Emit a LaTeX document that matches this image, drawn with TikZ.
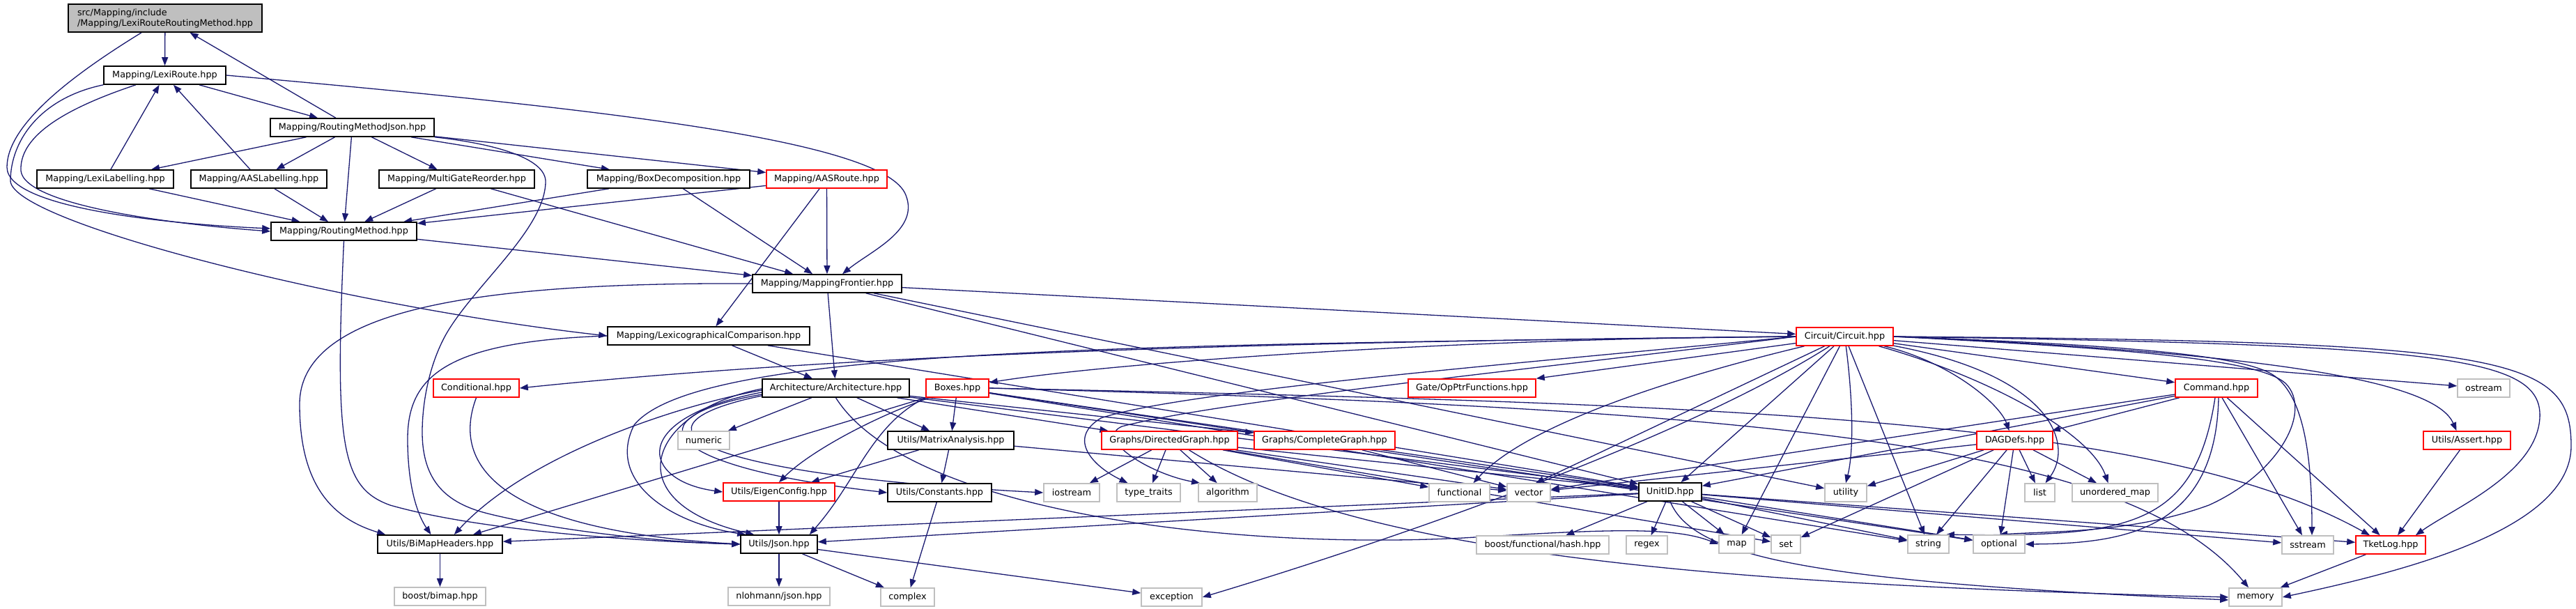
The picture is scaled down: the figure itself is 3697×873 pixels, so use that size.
\documentclass[tikz,border=0pt]{standalone}
\usepackage{fontspec}
\setmainfont{DejaVu Sans}
\usetikzlibrary{arrows.meta,calc}
\definecolor{edgec}{HTML}{191970}
\definecolor{grayb}{HTML}{BFBFBF}
\definecolor{redb}{HTML}{FF0000}
\pgfdeclarelayer{bg}
\pgfsetlayers{bg,main}
\begin{document}
\begin{tikzpicture}[x=1pt,y=-1pt,
  dbox/.style={draw=black, line width=1.6pt, fill=white, minimum height=26pt, inner sep=0pt, font=\fontsize{12.8}{15}\selectfont},
  nb/.style={dbox},
  nr/.style={dbox, draw=redb},
  ng/.style={dbox, draw=grayb},
  edg/.style={draw=edgec, line width=1.3pt, -{Triangle[length=12pt,width=9pt]}},
]
\useasboundingbox (0,0) rectangle (3697,873);

% nodes
\node[nb, fill=grayb, minimum width=278pt, minimum height=40pt, align=left] (root) at (237,26) {src/Mapping/include\\/Mapping/LexiRouteRoutingMethod.hpp};
\node[nb, minimum width=175pt] (LR) at (236.5,108) {Mapping/LexiRoute.hpp};
\node[nb, minimum width=235pt] (RMJ) at (505.5,183) {Mapping/RoutingMethodJson.hpp};
\node[nb, minimum width=196pt] (LL) at (151,257) {Mapping/LexiLabelling.hpp};
\node[nb, minimum width=195pt] (AASL) at (371.5,257) {Mapping/AASLabelling.hpp};
\node[nb, minimum width=223pt] (MGR) at (655.5,257) {Mapping/MultiGateReorder.hpp};
\node[nb, minimum width=233pt] (BD) at (959.5,257) {Mapping/BoxDecomposition.hpp};
\node[nr, minimum width=173pt] (AASR) at (1186.5,257) {Mapping/AASRoute.hpp};
\node[nb, minimum width=209pt] (RM) at (493.5,332) {Mapping/RoutingMethod.hpp};
\node[nb, minimum width=214pt] (MF) at (1187,407) {Mapping/MappingFrontier.hpp};
\node[nb, minimum width=290pt] (LC) at (1017,482) {Mapping/LexicographicalComparison.hpp};
\node[nr, minimum width=139pt] (Circ) at (2647.5,483) {Circuit/Circuit.hpp};
\node[nr, minimum width=123pt] (Cond) at (683.5,557) {Conditional.hpp};
\node[nb, minimum width=211pt] (Arch) at (1199.5,557) {Architecture/Architecture.hpp};
\node[nr, minimum width=90pt] (Boxes) at (1374,557) {Boxes.hpp};
\node[nr, minimum width=183pt] (Gate) at (2112.5,557) {Gate/OpPtrFunctions.hpp};
\node[nr, minimum width=118pt] (Cmd) at (3181,557) {Command.hpp};
\node[ng, minimum width=75pt] (ostream) at (3564.5,557) {ostream};
\node[ng, minimum width=74pt] (numeric) at (1010,632) {numeric};
\node[nb, minimum width=181pt] (MA) at (1364.5,632) {Utils/MatrixAnalysis.hpp};
\node[nr, minimum width=195pt] (DG) at (1678.5,632) {Graphs/DirectedGraph.hpp};
\node[nr, minimum width=202pt] (CG) at (1901,632) {Graphs/CompleteGraph.hpp};
\node[nr, minimum width=109pt] (DAG) at (2891.5,632) {DAGDefs.hpp};
\node[nr, minimum width=125pt] (Assert) at (3540.5,632) {Utils/Assert.hpp};
\node[nr, minimum width=160pt] (EC) at (1118,706) {Utils/EigenConfig.hpp};
\node[nb, minimum width=149pt] (Const) at (1348.5,707) {Utils/Constants.hpp};
\node[ng, minimum width=80pt] (iostream) at (1538,707) {iostream};
\node[ng, minimum width=91pt] (typetraits) at (1648.5,707) {type\_traits};
\node[ng, minimum width=84pt] (algorithm) at (1762,707) {algorithm};
\node[ng, minimum width=87pt] (functional) at (2094.5,707) {functional};
\node[ng, minimum width=62pt] (vector) at (2194,707) {vector};
\node[nb, minimum width=90pt] (UnitID) at (2397,706) {UnitID.hpp};
\node[ng, minimum width=60pt] (utility) at (2649,707) {utility};
\node[ng, minimum width=43pt] (list) at (2927.5,707) {list};
\node[ng, minimum width=123pt] (umap) at (3035.5,707) {unordered\_map};
\node[nb, minimum width=179pt] (BiMap) at (631.5,781) {Utils/BiMapHeaders.hpp};
\node[nb, minimum width=110pt] (Json) at (1118,781) {Utils/Json.hpp};
\node[ng, minimum width=190pt] (hash) at (2214,782) {boost/functional/hash.hpp};
\node[ng, minimum width=59pt] (regex) at (2363.5,782) {regex};
\node[ng, minimum width=51pt] (map) at (2492.5,781) {map};
\node[ng, minimum width=42pt] (set) at (2563,781) {set};
\node[ng, minimum width=59pt] (string) at (2767.5,781) {string};
\node[ng, minimum width=74pt] (optional) at (2869,781) {optional};
\node[ng, minimum width=74pt] (sstream) at (3312,782) {sstream};
\node[nr, minimum width=100pt] (TketLog) at (3431,782) {TketLog.hpp};
\node[ng, minimum width=131pt] (bimap) at (631.5,856) {boost/bimap.hpp};
\node[ng, minimum width=146pt] (nlohmann) at (1118,856) {nlohmann/json.hpp};
\node[ng, minimum width=77pt] (complex) at (1302.5,857) {complex};
\node[ng, minimum width=87pt] (exception) at (1681.5,857) {exception};
\node[ng, minimum width=76pt] (memory) at (3237,857) {memory};

\begin{pgfonlayer}{bg}
\fill[white] (0,0) rectangle (3697,873);
% straight connectors
\foreach \a/\b in {root/LR, RMJ/root, LR/RMJ, LL/LR, AASL/LR, RMJ/LL, RMJ/AASL, RMJ/MGR, RMJ/BD, RMJ/AASR, RMJ/RM,
  LL/RM, AASL/RM, MGR/RM, MGR/MF, BD/RM, BD/MF, AASR/RM, AASR/MF, AASR/LC, RM/MF,
  MF/Circ, MF/Arch, MF/UnitID, MF/utility, LC/Arch, LC/UnitID,
  Circ/Cmd, Circ/ostream, Circ/UnitID, Circ/map, Circ/string,
  Arch/numeric, Arch/MA, Arch/DG, Arch/CG, Arch/UnitID,
  Boxes/MA, Boxes/UnitID, Boxes/string, Boxes/optional,
  Cmd/DAG, Cmd/UnitID, Cmd/vector, Cmd/sstream, Cmd/TketLog,
  MA/EC, MA/Const, MA/vector,
  DG/iostream, DG/typetraits, DG/algorithm, DG/functional, DG/vector, DG/set, DG/UnitID,
  CG/vector,
  DAG/utility, DAG/list, DAG/umap, DAG/set, DAG/string, DAG/optional, DAG/vector,
  Assert/TketLog, EC/Json, Const/complex,
  UnitID/BiMap, UnitID/Json, UnitID/hash, UnitID/regex, UnitID/map, UnitID/set, UnitID/string, UnitID/optional, UnitID/sstream, UnitID/TketLog,
  BiMap/bimap, Json/nlohmann, Json/complex, Json/exception, TketLog/memory}
  \draw[edg] (\a) -- (\b);

\draw[edg] (Circ) -- (Gate.north east);
\draw[edg] (Circ) -- ($(vector.north)+(10,0)$);
\draw[edg] (Boxes) -- ($(BiMap.north east)+(-43,0)$);

% curved connectors, upper part
\draw[edg] (root) .. controls (100,110) and (10,180) .. (10,240) .. controls (10,300) and (250,322) .. ($(RM.west)+(0,-4)$);
\draw[edg] (LR) .. controls (80,160) and (28,200) .. (30,245) .. controls (35,295) and (250,322) .. (RM.west);
\draw[edg] (LR.south west) .. controls (60,140) and (15,200) .. (15,260) .. controls (20,320) and (500,440) .. (LC.west);
\draw[edg] (LR.east) .. controls (850,155) and (1270,200) .. (1300,280) .. controls (1320,330) and (1250,360) .. ($(MF.north)+(22,0)$);
\draw[edg] (RMJ.south east) .. controls (700,205) and (785,225) .. (783,262) .. controls (781,330) and (680,410) .. (640,480) .. controls (615,525) and (606,580) .. (606,620) .. controls (606,690) and (640,722) .. (700,737) .. controls (800,762) and (950,778) .. (Json.west);
\draw[edg] (RM.south) .. controls (480,640) and (490,700) .. (560,725) .. controls (700,765) and (950,778) .. (Json.west);
\draw[edg] (MF.west) .. controls (700,405) and (430,440) .. (430,580) .. controls (430,700) and (480,745) .. ($(BiMap.north west)+(12,0)$);
\draw[edg] (LC.west) .. controls (640,490) and (585,540) .. (585,630) .. controls (585,700) and (600,740) .. ($(BiMap.north)+(-13,0)$);
\draw[edg] (Cond.south) .. controls (650,660) and (700,760) .. (Json.west);

% Architecture / Boxes curves
\draw[edg] ($(Arch.west)+(0,3)$) .. controls (980,580) and (760,650) .. ($(BiMap.north east)+(-70,0)$);
\draw[edg] ($(Arch.west)+(0,6)$) .. controls (900,600) and (920,690) .. (EC.west);
\draw[edg] ($(Arch.west)+(0,9)$) .. controls (900,600) and (950,670) .. (Const.west);
\draw[edg] ($(Arch.west)+(0,11)$) .. controls (890,610) and (980,680) .. (iostream.west);
\draw[edg] ($(Arch.west)+(0,1)$) .. controls (930,590) and (880,720) .. ($(Json.north west)+(20,0)$);
\draw[edg] (Arch.south) .. controls (1300,730) and (1750,790) .. (2100,772) .. controls (2300,760) and (2400,755) .. (map.west);
\draw[edg] (Boxes.south west) .. controls (1250,610) and (1230,690) .. ($(Json.north east)+(-12,0)$);
\draw[edg] (Boxes) .. controls (1250,600) and (1160,650) .. (EC.north);
\draw[edg] (Boxes.east) .. controls (2500,580) and (3100,600) .. ($(TketLog.north)+(-30,0)$);
\draw[edg] (Boxes.east) .. controls (2500,586) and (3050,630) .. ($(memory.north)+(-10,0)$);
\draw[edg] ($(DG.south)+(28,0)$) .. controls (1950,800) and (2500,840) .. (memory.west);
\draw[edg] (UnitID.south) .. controls (2430,800) and (2600,835) .. ($(memory.west)+(0,4)$);

% Circuit curves
\draw[edg] (Circ.west) .. controls (1800,490) and (1200,510) .. (Cond.east);
\draw[edg] (Circ.west) .. controls (1600,495) and (1000,500) .. (910,610) .. controls (870,690) and (960,750) .. ($(Json.north west)+(8,0)$);
\draw[edg] (Circ.west) .. controls (2100,485) and (1600,520) .. ($(Boxes.east)+(0,-8)$);
\draw[edg] (Circ.west) .. controls (2200,520) and (1700,560) .. (1580,600) .. controls (1530,630) and (1570,670) .. ($(typetraits.north)+(-30,0)$);
\draw[edg] (Circ.west) .. controls (2200,530) and (1750,575) .. (1610,612) .. controls (1570,630) and (1650,680) .. ($(algorithm.north)+(-40,0)$);
\draw[edg] (Circ) .. controls (2450,530) and (2200,600) .. ($(functional.north)+(20,0)$);
\draw[edg] (Circ) .. controls (2400,640) and (1950,790) .. (exception.east);
\draw[edg] (Circ) .. controls (2660,580) and (2660,650) .. (utility.north);
\draw[edg] (Circ) .. controls (2800,520) and (2870,580) .. ($(DAG.north)+(-8,0)$);
\draw[edg] (Circ) .. controls (2950,540) and (2975,640) .. ($(list.north)+(8,0)$);
\draw[edg] (Circ) .. controls (2850,540) and (3000,620) .. ($(umap.north)+(-10,0)$);
\draw[edg] (Circ.east) .. controls (3350,510) and (3500,560) .. ($(Assert.north)+(-15,0)$);
\draw[edg] (Circ.east) .. controls (3050,495) and (3225,510) .. (3265,540) .. controls (3305,570) and (3318,650) .. ($(sstream.north)+(6,0)$);
\draw[edg] (Circ.east) .. controls (3050,500) and (3240,515) .. (3280,550) .. controls (3320,590) and (3270,680) .. (3170,725) .. controls (3060,765) and (2950,762) .. (optional.north);
\draw[edg] (Circ.east) .. controls (3500,495) and (3650,510) .. (3645,600) .. controls (3640,680) and (3520,730) .. ($(TketLog.north east)+(-15,0)$);
\draw[edg] (Circ.east) .. controls (3600,490) and (3690,510) .. (3690,640) .. controls (3690,760) and (3450,820) .. (memory.east);

% Command curves
\draw[edg] ($(Cmd.south)+(-2,0)$) .. controls (3150,760) and (3050,770) .. ($(string.north east)+(-5,0)$);
\draw[edg] ($(Cmd.south)+(3,0)$) .. controls (3180,760) and (3050,780) .. (optional.east);
\end{pgfonlayer}
\end{tikzpicture}
\end{document}
